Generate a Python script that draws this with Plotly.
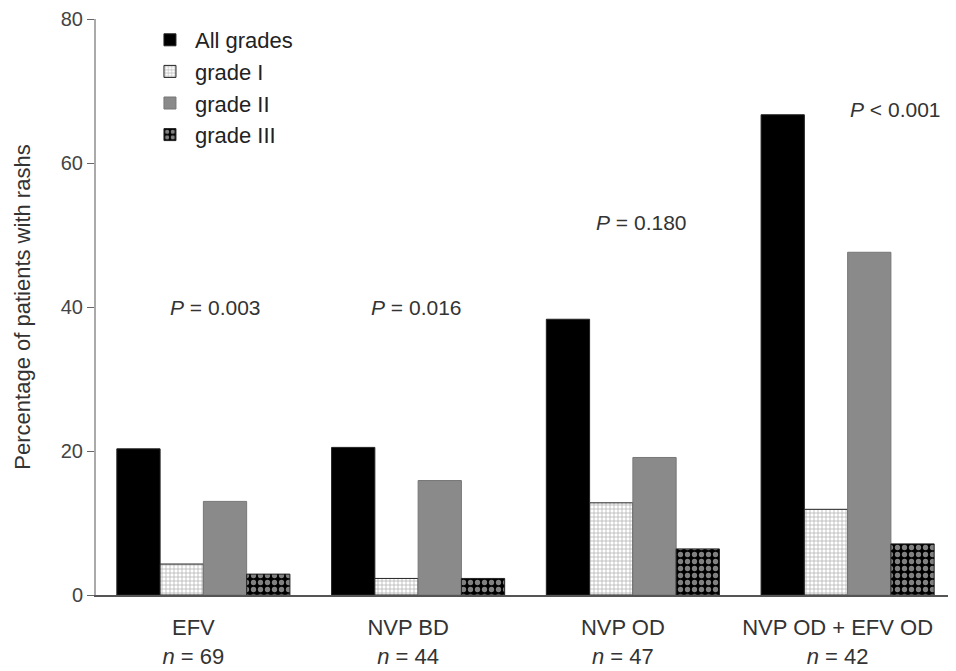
import plotly.graph_objects as go

categories = ["EFV<br><i>n</i> = 69", "NVP BD<br><i>n</i> = 44",
              "NVP OD<br><i>n</i> = 47", "NVP OD + EFV OD<br><i>n</i> = 42"]
all_grades = [20.3, 20.5, 38.3, 66.7]
grade_1 = [4.3, 2.3, 12.8, 11.9]
grade_2 = [13.0, 15.9, 19.1, 47.6]
grade_3 = [2.9, 2.3, 6.4, 7.1]
p_labels = ["<i>P</i> = 0.003", "<i>P</i> = 0.016", "<i>P</i> = 0.180", "<i>P</i> < 0.001"]
y_ticks = [0, 20, 40, 60, 80]

# annotation placement (layout only)
p_y = [40.0, 39.9, 51.8, 67.4]
p_xshift = [12, -2, 9, 48]

FONT = "Liberation Sans, Arial, sans-serif"
line = dict(color="#222", width=1)

fig = go.Figure()
fig.add_bar(name="All grades", x=categories, y=all_grades,
            marker=dict(color="black", line=line))
fig.add_bar(name="grade I", x=categories, y=grade_1,
            marker=dict(color="white", line=line,
                        pattern=dict(shape="+", fgcolor="#666", bgcolor="white",
                                     size=4, solidity=0.35)))
fig.add_bar(name="grade II", x=categories, y=grade_2,
            marker=dict(color="#8a8a8a", line=dict(color="#777", width=1)))
fig.add_bar(name="grade III", x=categories, y=grade_3,
            marker=dict(color="black", line=line,
                        pattern=dict(shape=".", fgcolor="white", bgcolor="#000",
                                     size=7, solidity=0.45)))

for c, t, h, dx in zip(categories, p_labels, p_y, p_xshift):
    fig.add_annotation(x=c, y=h, text=t, showarrow=False, xref="x", yref="y",
                       xshift=dx, font=dict(size=21, color="#333", family=FONT))

fig.update_layout(
    width=948, height=663,
    margin=dict(l=88, r=1, t=11, b=76),
    paper_bgcolor="white", plot_bgcolor="white",
    barmode="group", bargap=0.194, bargroupgap=0,
    font=dict(family=FONT, size=20, color="#333"),
    legend=dict(x=0.057, y=1.0, xanchor="left", yanchor="top",
                font=dict(size=22, color="#222"), bgcolor="rgba(0,0,0,0)",
                tracegroupgap=0, itemwidth=40),
    showlegend=True,
)
fig.update_xaxes(showline=True, linecolor="#555", linewidth=1.5, ticks="",
                 showgrid=False, tickfont=dict(size=22, color="#333"),
                 range=[-0.5, 3.5], ticklabelstandoff=12, ticklabelshift=-10,
                 automargin=False)
fig.update_yaxes(range=[0, 80], tickvals=y_ticks, showline=True, linecolor="#aaa",
                 linewidth=2, ticks="outside", ticklen=7, tickcolor="#666",
                 showgrid=False, zeroline=False, automargin=False,
                 title=dict(text="Percentage of patients with rashs",
                            font=dict(size=22, color="#333"), standoff=24),
                 tickfont=dict(size=20, color="#444"))

fig.write_html("out.html")
